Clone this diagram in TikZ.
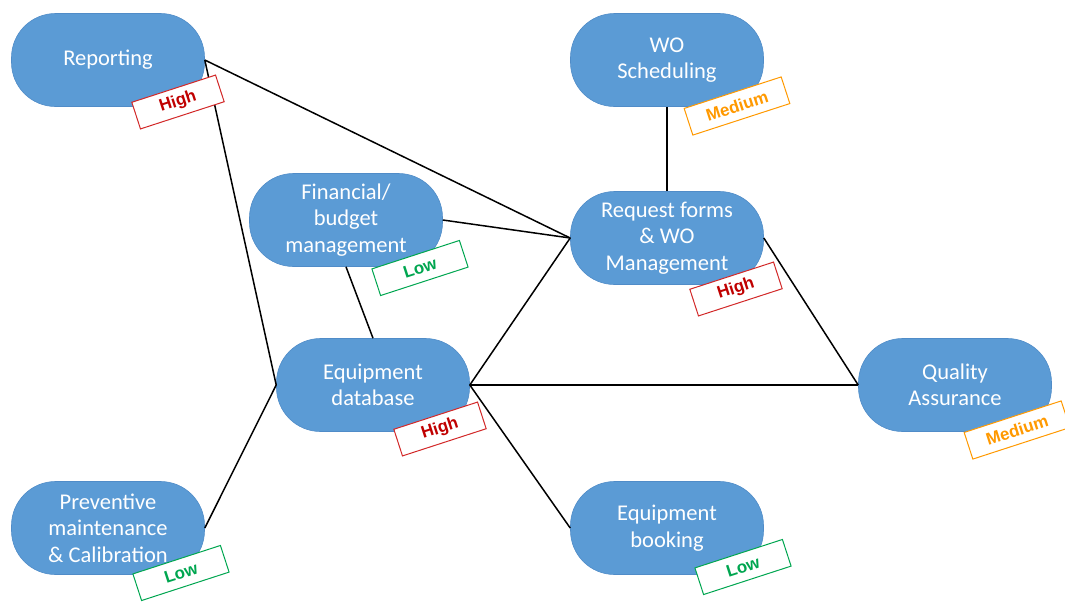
\documentclass[tikz,border=0pt]{standalone}
\usepackage{fontspec}
\setmainfont{Carlito}
\newfontfamily\tagfont{Liberation Sans}
\definecolor{topicblue}{RGB}{91,155,213}
\definecolor{topicedge}{RGB}{80,140,200}
\definecolor{highred}{RGB}{192,0,0}
\definecolor{highedge}{RGB}{210,40,40}
\definecolor{lowgreen}{RGB}{0,166,80}
\definecolor{medorange}{RGB}{255,153,0}
\tikzset{
  topic/.style={rectangle, rounded corners=44pt, fill=topicblue, draw=topicedge,
    line width=0.6pt, minimum width=193pt, minimum height=93pt, align=center,
    text=white, inner sep=0pt,
    font=\fontsize{22.5pt}{26.5pt}\selectfont},
  link/.style={line width=1.5pt, black},
  prio/.style={rectangle, draw, fill=white, line width=1pt, rotate=18,
    minimum height=28pt, inner sep=0pt,
    font=\tagfont\bfseries\fontsize{17pt}{19pt}\selectfont},
  high/.style={prio, draw=highedge, text=highred, minimum width=88pt},
  low/.style={prio, draw=lowgreen, text=lowgreen, minimum width=92pt},
  medium/.style={prio, draw=medorange, text=medorange, minimum width=102pt},
}
\begin{document}
\begin{tikzpicture}[x=1pt,y=-1pt]
\useasboundingbox (0,0) rectangle (1065,603);

% topics
\node[topic] (rep) at (108,60) {Reporting};
\node[topic] (wos) at (667,60) {WO\\Scheduling};
\node[topic] (fin) at (346,220) {Financial/\\budget\\management};
\node[topic] (req) at (667,238) {Request forms\\\& WO\\Management};
\node[topic] (eqd) at (373,385) {Equipment\\database};
\node[topic] (qa)  at (955,385) {Quality\\Assurance};
\node[topic] (pm)  at (108,528) {Preventive\\maintenance\\\& Calibration};
\node[topic] (eqb) at (667,528) {Equipment\\booking};

% links between topics
\draw[link] (rep.east) -- (req.west);
\draw[link] (rep.east) -- (eqd.west);
\draw[link] (fin.east) -- (req.west);
\draw[link] (fin.south) -- (eqd.north);
\draw[link] (wos.south) -- (req.north);
\draw[link] (eqd.east) -- (req.west);
\draw[link] (eqd.east) -- (qa.west);
\draw[link] (eqd.east) -- (eqb.west);
\draw[link] (req.east) -- (qa.west);
\draw[link] (pm.east) -- (eqd.west);

% priority tags
\node[high]   (t1) at (178,102) {High};
\node[medium] (t2) at (737,106) {Medium};
\node[low]    (t3) at (420,268) {Low};
\node[high]   (t4) at (736,289) {High};
\node[high]   (t5) at (440,429) {High};
\node[medium] (t6) at (1017,430) {Medium};
\node[low]    (t7) at (181,573) {Low};
\node[low]    (t8) at (743,567) {Low};
\end{tikzpicture}
\end{document}
